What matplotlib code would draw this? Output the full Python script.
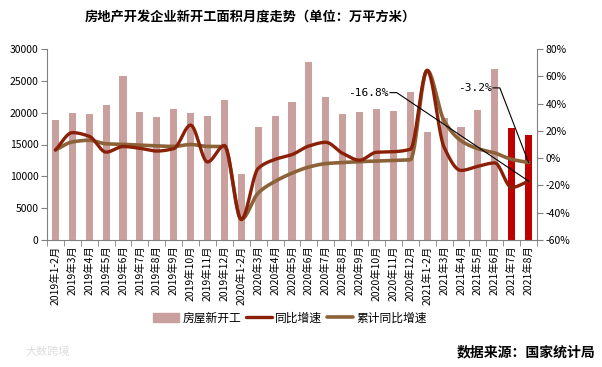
import numpy as np
import matplotlib
matplotlib.use("Agg")
import matplotlib.pyplot as plt
from matplotlib.patches import Patch

plt.rcParams['font.family'] = ['Noto Sans CJK SC', 'DejaVu Sans']

categories = ["2019年1-2月", "2019年3月", "2019年4月", "2019年5月", "2019年6月", "2019年7月",
              "2019年8月", "2019年9月", "2019年10月", "2019年11月", "2019年12月",
              "2020年1-2月", "2020年3月", "2020年4月", "2020年5月", "2020年6月", "2020年7月",
              "2020年8月", "2020年9月", "2020年10月", "2020年11月", "2020年12月",
              "2021年1-2月", "2021年3月", "2021年4月", "2021年5月", "2021年6月",
              "2021年7月", "2021年8月"]

new_starts = [18850, 19950, 19790, 21250, 25800, 20100, 19320, 20580, 20000, 19480, 21990,
              10420, 17750, 19480, 21730, 28010, 22460, 19790, 20100, 20580, 20260, 23250,
              17020, 19150, 17750, 20470, 26910, 17650, 16490]

yoy = [6.0, 18.7, 16.0, 4.4, 8.5, 7.2, 5.2, 7.0, 24.2, -2.8, 9.3,
       -44.9, -7.5, -0.9, 2.6, 8.9, 11.6, 3.5, -1.5, 4.3, 4.7, 6.5,
       64.3, 8.0, -9.0, -6.0, -3.5, -21.5, -16.8]

cum_yoy = [6.0, 11.9, 13.1, 10.5, 10.1, 9.5, 8.9, 8.6, 10.0, 8.6, 8.5,
           -44.9, -25.5, -17.0, -11.0, -6.5, -4.0, -3.2, -2.6, -2.1, -1.7, -1.2,
           64.3, 27.5, 12.8, 6.9, 3.8, -0.9, -3.2]

highlight = [27, 28]

bar_color = "#C9A09D"
hi_color = "#C00000"
yoy_color = "#8B2008"
cum_color = "#8C6239"


def smooth(xs, ys, n=24):
    """Monotone cubic (Fritsch-Carlson) rendering of the line."""
    xs = np.asarray(xs, float)
    ys = np.asarray(ys, float)
    h = np.diff(xs)
    d = np.diff(ys) / h
    m = np.zeros_like(ys)
    m[0] = d[0]
    m[-1] = d[-1]
    for k in range(1, len(ys) - 1):
        if d[k - 1] * d[k] <= 0:
            m[k] = 0.0
        else:
            m[k] = 2.0 / (1.0 / d[k - 1] + 1.0 / d[k])
    ox, oy = [], []
    for k in range(len(xs) - 1):
        t = np.linspace(0, 1, n, endpoint=False)
        h00 = 2 * t ** 3 - 3 * t ** 2 + 1
        h10 = t ** 3 - 2 * t ** 2 + t
        h01 = -2 * t ** 3 + 3 * t ** 2
        h11 = t ** 3 - t ** 2
        ox.append(xs[k] + t * h[k])
        oy.append(h00 * ys[k] + h10 * h[k] * m[k] + h01 * ys[k + 1] + h11 * h[k] * m[k + 1])
    ox.append([xs[-1]])
    oy.append([ys[-1]])
    return np.concatenate(ox), np.concatenate(oy)


fig = plt.figure(figsize=(6.02, 3.67), dpi=100)
ax = fig.add_axes([47 / 602, 1 - 240 / 367, 490 / 602, 191 / 367])
ax2 = ax.twinx()

x = np.arange(len(categories))
colors = [hi_color if i in highlight else bar_color for i in x]
ax.bar(x, new_starts, width=0.42, color=colors, zorder=2)
ax.set_xlim(-0.5, len(categories) - 0.5)
ax.set_ylim(0, 30000)
ax.set_yticks(np.arange(0, 30001, 5000))
ax.set_xticks(x)
ax.set_xticklabels(categories, rotation=90, fontsize=7.5, va='top', ha='center')
ax.set_xticks(np.arange(-0.5, len(categories), 1), minor=True)
ax.tick_params(axis='x', which='major', length=0, pad=4)
ax.tick_params(axis='x', which='minor', length=4, color='#808080', direction='out')
ax.tick_params(axis='y', length=4, color='#808080', labelsize=7.5, pad=2)

ax2.set_ylim(-60, 80)
ax2.set_yticks(np.arange(-60, 81, 20))
ax2.set_yticklabels([f"{v}%" for v in range(-60, 81, 20)])
ax2.tick_params(axis='y', length=4, color='#808080', labelsize=7.5, pad=2)

for a in (ax, ax2):
    a.spines['top'].set_visible(False)
    for s in ('left', 'right', 'bottom'):
        a.spines[s].set_color('#808080')
        a.spines[s].set_linewidth(0.8)
ax.spines['right'].set_visible(False)
ax2.spines['left'].set_visible(False)
ax2.spines['bottom'].set_visible(False)

sx, sy = smooth(x, cum_yoy)
l2, = ax2.plot(sx, sy, color=cum_color, lw=2.6, zorder=3, solid_capstyle='round')
sx, sy = smooth(x, yoy)
l1, = ax2.plot(sx, sy, color=yoy_color, lw=2.4, zorder=4, solid_capstyle='round')

# annotations
ax2.text(18.5, 48, "-16.8%", fontsize=8, family='DejaVu Sans Mono', ha='center', va='center')
ax2.plot([19.8, 20.2, 28], [48, 48, yoy[28]], color='black', lw=0.8, zorder=5)
ax2.text(24.8, 51.5, "-3.2%", fontsize=8, family='DejaVu Sans Mono', ha='center', va='center')
ax2.plot([25.9, 26.3, 28], [51.5, 51.5, cum_yoy[28]], color='black', lw=0.8, zorder=5)

# legend
handles = [Patch(color=bar_color), l1, l2]
labels = ["房屋新开工", "同比增速", "累计同比增速"]
leg = fig.legend(handles, labels, loc='center', bbox_to_anchor=(290 / 602, 1 - 318 / 367),
                 ncol=3, frameon=False, fontsize=8.5, handlelength=2.2, handletextpad=0.3,
                 columnspacing=0.4)

fig.text(250 / 602, 1 - 17 / 367, "房地产开发企业新开工面积月度走势（单位：万平方米）",
         fontsize=9.5, fontweight='bold', ha='center', va='center')
fig.text(595 / 602, 1 - 352 / 367, "数据来源：国家统计局", fontsize=10, fontweight='bold',
         ha='right', va='center')
fig.text(25 / 602, 1 - 352 / 367, "大数跨境", fontsize=8, color='#DDDDDD', ha='left', va='center')

fig.savefig("out.png", dpi=100)
